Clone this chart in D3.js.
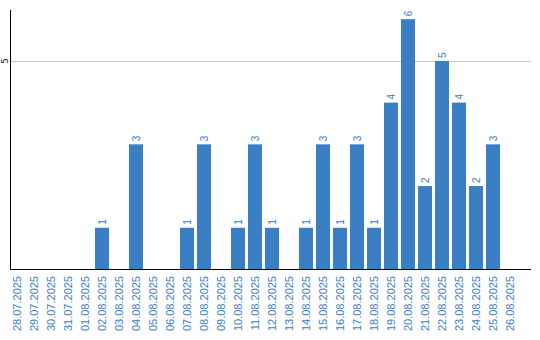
<!DOCTYPE html>
<html>
<head>
    <script src="https://d3js.org/d3.v7.min.js"></script>
    <style>
        body { margin: 0; background: #fff; }
    </style>
</head>
<body>
<svg id="chart" width="540" height="340"></svg>
<script>
    // dates shown on the x axis
    const dates = ["28.07.2025", "29.07.2025", "30.07.2025", "31.07.2025", "01.08.2025",
        "02.08.2025", "03.08.2025", "04.08.2025", "05.08.2025", "06.08.2025",
        "07.08.2025", "08.08.2025", "09.08.2025", "10.08.2025", "11.08.2025",
        "12.08.2025", "13.08.2025", "14.08.2025", "15.08.2025", "16.08.2025",
        "17.08.2025", "18.08.2025", "19.08.2025", "20.08.2025", "21.08.2025",
        "22.08.2025", "23.08.2025", "24.08.2025", "25.08.2025", "26.08.2025"];
    // count per day
    const counts = [0, 0, 0, 0, 0, 1, 0, 3, 0, 0, 1, 3, 0, 1, 3, 1, 0, 1, 3, 1, 3, 1, 4, 6, 2, 5, 4, 2, 3, 0];
    const yTicks = [5];

    const data = dates.map((d, i) => ({ date: d, value: counts[i] }));

    const svg = d3.select("#chart");
    const plotLeft = 10.5, plotRight = 531, plotTop = 10, plotBottom = 269.5;

    const x = d3.scaleBand()
        .domain(dates)
        .range([8.5, 518.5])
        .paddingInner(3 / 17)
        .paddingOuter(3 / 34);

    const y = d3.scaleLinear()
        .domain([0, 6.22])
        .range([plotBottom, plotTop]);

    // grid line
    svg.selectAll(".grid")
        .data(yTicks)
        .join("line")
        .attr("x1", plotLeft)
        .attr("x2", plotRight)
        .attr("y1", d => Math.round(y(d)) + 0.5)
        .attr("y2", d => Math.round(y(d)) + 0.5)
        .attr("stroke", "#c8c8c8");

    // bars
    svg.selectAll(".bar")
        .data(data.filter(d => d.value > 0))
        .join("rect")
        .attr("x", d => x(d.date))
        .attr("y", d => y(d.value))
        .attr("width", x.bandwidth())
        .attr("height", d => plotBottom - y(d.value))
        .attr("fill", "#3a7ec4");

    // value labels
    svg.selectAll(".val")
        .data(data.filter(d => d.value > 0))
        .join("text")
        .attr("transform", d => `translate(${x(d.date) + x.bandwidth() / 2},${y(d.value) - 3}) rotate(-90)`)
        .attr("dy", "0.35em")
        .attr("font-family", "Liberation Sans, Arial, sans-serif")
        .attr("font-size", 10)
        .attr("fill", "#3a7ec4")
        .text(d => d.value);

    // axes lines
    svg.append("line")
        .attr("x1", plotLeft).attr("x2", plotLeft)
        .attr("y1", plotTop).attr("y2", plotBottom)
        .attr("stroke", "#000");
    svg.append("line")
        .attr("x1", plotLeft).attr("x2", plotRight)
        .attr("y1", plotBottom).attr("y2", plotBottom)
        .attr("stroke", "#000");

    // y tick labels
    svg.selectAll(".ytick")
        .data(yTicks)
        .join("text")
        .attr("transform", d => `translate(5,${y(d)}) rotate(-90)`)
        .attr("text-anchor", "middle")
        .attr("dy", "0.35em")
        .attr("font-family", "DejaVu Sans, sans-serif")
        .attr("font-size", 8)
        .attr("fill", "#000")
        .text(d => d);

    // x labels
    svg.selectAll(".xlab")
        .data(dates)
        .join("text")
        .attr("transform", d => `translate(${x(d) + x.bandwidth() / 2},276) rotate(-90)`)
        .attr("text-anchor", "end")
        .attr("dy", "0.35em")
        .attr("font-family", "Liberation Sans, Arial, sans-serif")
        .attr("font-size", 11)
        .attr("fill", "#3a7ec4")
        .text(d => d);
</script>
</body>
</html>
